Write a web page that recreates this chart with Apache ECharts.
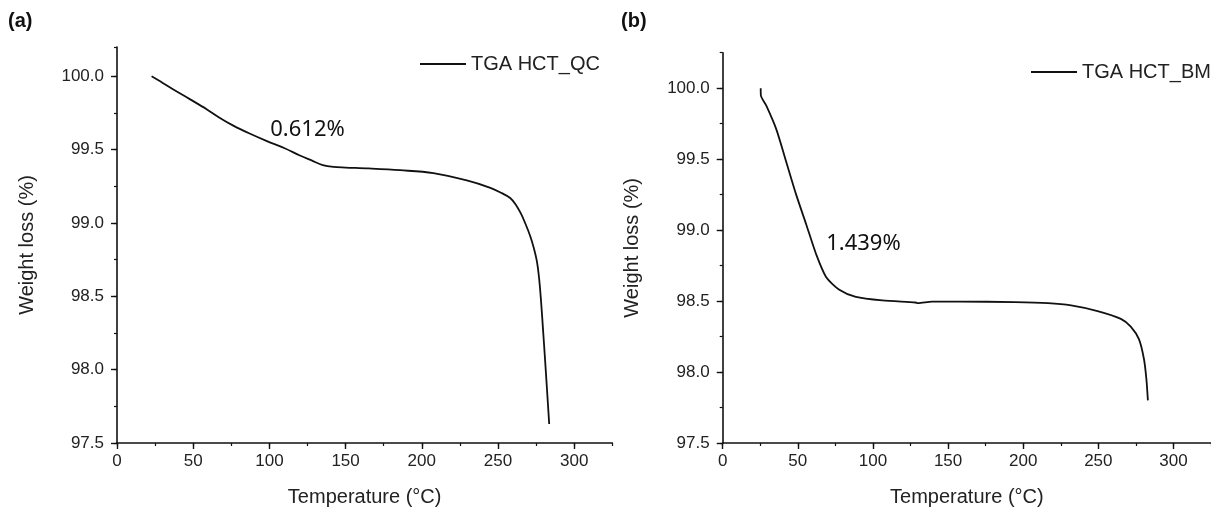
<!DOCTYPE html>
<html>
<head>
    <meta charset="utf-8" />
    <title>TGA</title>
    <script src="https://cdn.jsdelivr.net/npm/echarts@6/dist/echarts.min.js"></script>
    <style>
        html, body { margin: 0; padding: 0; background: #fff; }
        #chart { width: 1211px; height: 512px; }
    </style>
</head>
<body>
    <div id="chart"></div>
<script>
    // (a) TGA HCT_QC, temperature (°C) and weight (%)
    var tempQC = [22.7, 30, 37, 48, 58.8, 67, 76.3, 87, 98, 110, 120, 128, 135, 142, 150, 165, 185.7, 207.6, 229.5, 245, 251.3, 258, 262, 265, 268, 271, 273.5, 275.5, 277, 278.3, 279.5, 281, 283.6];
    var weightQC = [100.0, 99.955, 99.91, 99.843, 99.776, 99.72, 99.664, 99.61, 99.56, 99.51, 99.46, 99.425, 99.395, 99.382, 99.378, 99.372, 99.36, 99.34, 99.29, 99.24, 99.21, 99.17, 99.12, 99.065, 98.995, 98.915, 98.83, 98.74, 98.62, 98.46, 98.28, 98.05, 97.63];

    // (b) TGA HCT_BM
    var tempBM = [25.3, 25.4, 29.1, 35.7, 42.3, 48.9, 55.6, 62.2, 68.8, 77.6, 88.6, 106.2, 128.3, 130, 139.3, 157, 194.4, 216.5, 231.9, 249.5, 265, 271.6, 277.1, 280.4, 282, 283];
    var weightBM = [100.0, 99.95, 99.875, 99.71, 99.48, 99.25, 99.04, 98.83, 98.67, 98.58, 98.53, 98.505, 98.49, 98.485, 98.496, 98.496, 98.493, 98.486, 98.47, 98.43, 98.375, 98.32, 98.23, 98.09, 97.95, 97.80];

    var seriesNames = ['TGA HCT_QC', 'TGA HCT_BM'];
    var panelLabels = ['(a)', '(b)'];
    // loss annotations: [temperature, weight, text]
    var noteQC = [125, 99.637, '0.612%'];
    var noteBM = [93.7, 98.904, '1.439%'];

    var xTicks = { min: 0, max: 325, major: 50, minor: 25 };
    var yMaxQC = 100.2, yMaxBM = 100.25, yMin = 97.5;

    function pairs(xs, ys) {
        return xs.map(function (x, i) { return [x, ys[i]]; });
    }

    var labelFont = { fontFamily: 'Liberation Sans', fontSize: 17, color: '#222' };
    var nameFont = { fontFamily: 'Liberation Sans', fontSize: 20, color: '#222' };
    var lineIcon = 'path://M0,0L46,0L46,1.8L0,1.8Z';

    function xAxes(grid) {
        return [{
            type: 'value', gridIndex: grid, position: 'bottom',
            min: xTicks.min, max: xTicks.max, interval: xTicks.major,
            name: 'Temperature (°C)', nameLocation: 'middle', nameGap: 44, nameTextStyle: nameFont,
            axisLine: { onZero: false, lineStyle: { color: '#111', width: 1.6 } },
            axisTick: { inside: false, length: 6, lineStyle: { color: '#111', width: 1.4 } },
            axisLabel: Object.assign({ margin: 10, showMaxLabel: false }, labelFont),
            splitLine: { show: false }
        }, {
            type: 'value', gridIndex: grid, position: 'bottom',
            min: xTicks.min, max: xTicks.max, interval: xTicks.minor,
            axisLine: { show: false },
            axisTick: { inside: false, length: 3, lineStyle: { color: '#111', width: 1.2 } },
            axisLabel: { show: false },
            splitLine: { show: false }
        }];
    }

    function yAxes(grid, yMax) {
        return [{
            type: 'value', gridIndex: grid, position: 'left',
            min: yMin, max: yMax, interval: 0.5,
            name: 'Weight loss (%)', nameLocation: 'middle', nameGap: 80, nameTextStyle: nameFont,
            axisLine: { onZero: false, lineStyle: { color: '#111', width: 1.6 } },
            axisTick: { inside: false, length: 6, lineStyle: { color: '#111', width: 1.4 } },
            axisLabel: Object.assign({ margin: 13, showMaxLabel: false,
                formatter: function (v) { return v.toFixed(1); } }, labelFont),
            splitLine: { show: false }
        }, {
            type: 'value', gridIndex: grid, position: 'left',
            min: yMin, max: yMax, interval: 0.25,
            axisLine: { show: false },
            axisTick: { inside: false, length: 3, lineStyle: { color: '#111', width: 1.2 } },
            axisLabel: { show: false },
            splitLine: { show: false }
        }];
    }

    function note(n) {
        return {
            symbol: 'circle', symbolSize: 1, silent: true,
            itemStyle: { color: 'rgba(0,0,0,0)' },
            data: [{ coord: [n[0], n[1]], value: n[2] }],
            label: { show: true, position: 'inside', formatter: n[2],
                fontFamily: 'Noto Sans', fontSize: 22, color: '#111' }
        };
    }

    var myChart = echarts.init(document.getElementById('chart'), null, { renderer: 'canvas' });

    var option = {
        backgroundColor: '#fff',
        animation: false,
        title: [
            { text: panelLabels[0], left: 8, top: 11, padding: 0,
              textStyle: { fontFamily: 'Liberation Sans', fontWeight: 'bold', fontSize: 20, color: '#111' } },
            { text: panelLabels[1], left: 621, top: 11, padding: 0,
              textStyle: { fontFamily: 'Liberation Sans', fontWeight: 'bold', fontSize: 20, color: '#111' } }
        ],
        legend: [
            { data: [{ name: seriesNames[0], icon: lineIcon }], left: 415, top: 49, itemWidth: 46, itemHeight: 20, itemGap: 6,
              textStyle: { fontFamily: 'Liberation Sans', fontSize: 20, color: '#222' } },
            { data: [{ name: seriesNames[1], icon: lineIcon }], left: 1026, top: 57, itemWidth: 46, itemHeight: 20, itemGap: 6,
              textStyle: { fontFamily: 'Liberation Sans', fontSize: 20, color: '#222' } }
        ],
        grid: [
            { left: 117, top: 47, width: 495.3, height: 400.5 },
            { left: 722.7, top: 52.7, width: 491.4, height: 396 }
        ],
        xAxis: xAxes(0).concat(xAxes(1)),
        yAxis: yAxes(0, yMaxQC).concat(yAxes(1, yMaxBM)),
        series: [
            {
                name: seriesNames[0], type: 'line', xAxisIndex: 0, yAxisIndex: 0,
                data: pairs(tempQC, weightQC), showSymbol: false, symbol: 'none',
                smooth: 0.35,
                lineStyle: { color: '#111', width: 1.8 }, itemStyle: { color: '#111' },
                markPoint: note(noteQC)
            },
            {
                name: seriesNames[1], type: 'line', xAxisIndex: 2, yAxisIndex: 2,
                data: pairs(tempBM, weightBM), showSymbol: false, symbol: 'none',
                smooth: 0.25,
                lineStyle: { color: '#111', width: 1.8 }, itemStyle: { color: '#111' },
                markPoint: note(noteBM)
            }
        ]
    };

    myChart.setOption(option);
</script>
</body>
</html>
